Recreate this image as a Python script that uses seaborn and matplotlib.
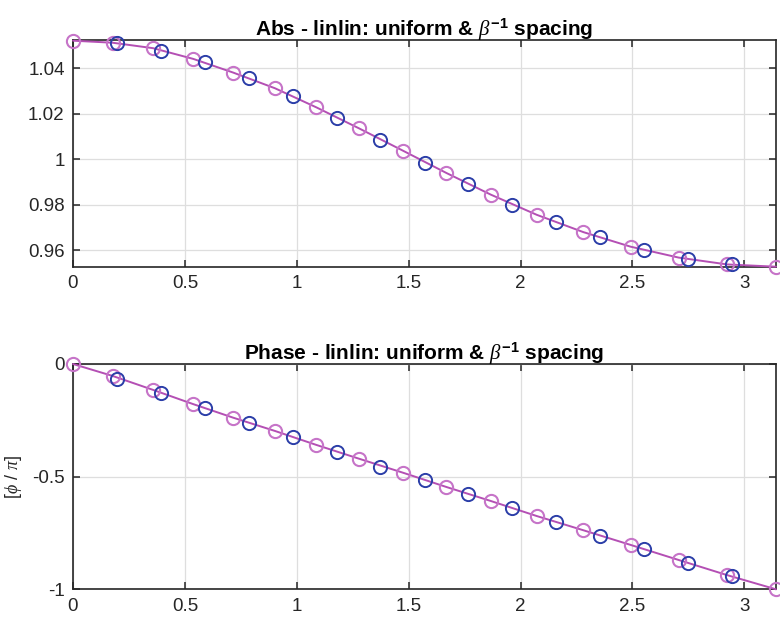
import numpy as np
import pandas as pd
import matplotlib
matplotlib.use('Agg')
import matplotlib.pyplot as plt
from matplotlib.ticker import FuncFormatter, MultipleLocator
import seaborn as sns

sns.set_style('whitegrid')
plt.rcParams['font.family'] = ['Liberation Sans', 'DejaVu Sans']
plt.rcParams['mathtext.fontset'] = 'custom'
plt.rcParams['mathtext.rm'] = 'Liberation Sans'
plt.rcParams['mathtext.it'] = 'Liberation Serif:italic'
plt.rcParams['mathtext.bf'] = 'Liberation Sans:bold'

BLUE = '#2b3ea8'
MAG_MK = '#c674c8'
MAG_LN = '#b44fb4'
AXC = '#262626'

# ── data ──────────────────────────────────────────────────
# uniform spacing (blue)
x_uni = [0.196, 0.393, 0.589, 0.785, 0.982, 1.178, 1.374, 1.571,
         1.767, 1.963, 2.160, 2.356, 2.553, 2.749, 2.945]
abs_uni = [1.0509, 1.0477, 1.0426, 1.0356, 1.0276, 1.0181, 1.0086, 0.9985,
           0.9892, 0.9800, 0.9723, 0.9657, 0.9600, 0.9562, 0.9537]
ph_uni = [-0.067, -0.130, -0.194, -0.261, -0.326, -0.392, -0.455, -0.515,
          -0.576, -0.641, -0.700, -0.764, -0.823, -0.882, -0.942]

# beta^-1 spacing (magenta)
x_beta = [0.0, 0.177, 0.358, 0.537, 0.715, 0.902, 1.087, 1.277, 1.473,
          1.669, 1.867, 2.073, 2.281, 2.492, 2.707, 2.923, 3.1416]
abs_beta = [1.0521, 1.0512, 1.0488, 1.0441, 1.0381, 1.0312, 1.0228, 1.0136, 1.0038,
            0.9939, 0.9844, 0.9755, 0.9679, 0.9615, 0.9567, 0.9537, 0.9527]
ph_beta = [0.0, -0.053, -0.115, -0.178, -0.238, -0.297, -0.359, -0.420, -0.482,
           -0.546, -0.608, -0.675, -0.738, -0.803, -0.870, -0.937, -1.0]

df_uni = pd.DataFrame({'x': x_uni, 'abs': abs_uni, 'phase': ph_uni})
df_beta = pd.DataFrame({'x': x_beta, 'abs': abs_beta, 'phase': ph_beta})

fig = plt.figure(figsize=(7.8, 6.18), dpi=100)
ax1 = fig.add_axes([73 / 780, 1 - 266.7 / 618, 703 / 780, 226.7 / 618])
ax2 = fig.add_axes([73 / 780, 1 - 589.3 / 618, 703 / 780, 225.3 / 618])

fmt = FuncFormatter(lambda v, p: f'{v:g}')
title = r'%s - linlin: uniform & $\beta^{\mathbf{-1}}$ spacing'

for ax, col, name, ylim, ystep in [
        (ax1, 'abs', 'Abs', (0.9527, 1.0524), 0.02),
        (ax2, 'phase', 'Phase', (-1.0, 0.0), 0.5)]:
    sns.lineplot(data=df_beta, x='x', y=col, ax=ax, estimator=None, sort=False,
                 color=MAG_LN, linewidth=1.4, marker='o', markersize=9.5,
                 markerfacecolor='none', markeredgecolor=MAG_MK,
                 markeredgewidth=1.5, clip_on=False, zorder=3)
    sns.lineplot(data=df_uni, x='x', y=col, ax=ax, estimator=None, sort=False,
                 color=BLUE, linestyle='', marker='o', markersize=9.5,
                 markerfacecolor='none', markeredgecolor=BLUE,
                 markeredgewidth=1.4, clip_on=False, zorder=4)
    ax.set_xlim(0, np.pi)
    ax.set_ylim(*ylim)
    ax.xaxis.set_major_locator(MultipleLocator(0.5))
    ax.yaxis.set_major_locator(MultipleLocator(ystep))
    ax.xaxis.set_major_formatter(fmt)
    ax.yaxis.set_major_formatter(fmt)
    ax.grid(True, color='#dedede', linewidth=0.9)
    for s in ax.spines.values():
        s.set_visible(True)
        s.set_color(AXC)
        s.set_linewidth(1.2)
    ax.tick_params(direction='in', length=5, width=1.1, color=AXC,
                   labelcolor=AXC, labelsize=13.5, top=True, right=True,
                   bottom=True, left=True, pad=6)
    ax.set_xlabel('')
    ax.set_ylabel('')
    ax.set_title(title % name, fontsize=15, fontweight='bold', pad=3, color='black')

ax2.set_ylabel(r'[$\phi$ / $\pi$]', fontsize=13, color=AXC, labelpad=6)

plt.savefig('out.png', dpi=100)
plt.close()
